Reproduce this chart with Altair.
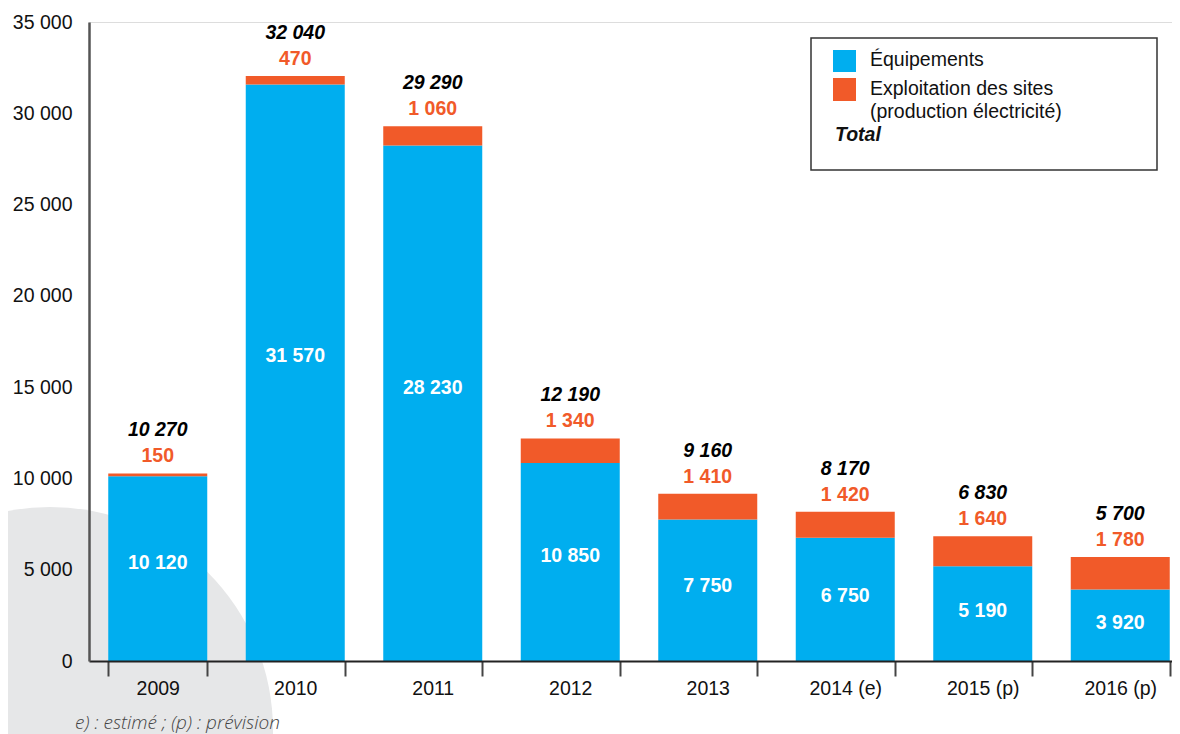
import altair as alt
import pandas as pd

years = ["2009", "2010", "2011", "2012", "2013", "2014 (e)", "2015 (p)", "2016 (p)"]
equipements = [10120, 31570, 28230, 10850, 7750, 6750, 5190, 3920]
exploitation = [150, 470, 1060, 1340, 1410, 1420, 1640, 1780]
totals = [10270, 32040, 29290, 12190, 9160, 8170, 6830, 5700]
y_ticks = [0, 5000, 10000, 15000, 20000, 25000, 30000, 35000]

BLUE = "#00AEEF"
ORANGE = "#F15A29"
FONT = "Liberation Sans"
FS = 19.5

df = pd.DataFrame({"year": years, "equip": equipements, "expl": exploitation, "total": totals})

fmt = lambda f: f"replace(format(datum.{f}, ','), ',', ' ')"

x_enc = alt.X(
    "year:N", sort=years,
    scale=alt.Scale(domain=years, range=[0, 1100], paddingInner=0.28, paddingOuter=0.14),
    axis=alt.Axis(title=None, labelAngle=0, tickBand="extent", tickSize=15, tickWidth=2,
                  tickColor="#444", domainColor="#222", domainWidth=2, labelFontSize=FS,
                  labelColor="#111", labelPadding=3, zindex=1),
)
y_scale = alt.Scale(domain=[0, 35000], nice=False)
y_axis = alt.Axis(title=None, values=y_ticks, ticks=False, grid=False, labelPadding=17,
                  labelFontSize=FS, labelColor="#111", domainColor="#555", domainWidth=2.5,
                  labelExpr="replace(format(datum.value, ','), ',', ' ')", zindex=1)

base = alt.Chart(df).transform_calculate(
    equip_lbl=fmt("equip"), expl_lbl=fmt("expl"), total_lbl=fmt("total"),
    lbl_pos="datum.equip * 0.53",
)

# decorative background disc (radius ~223 px); Vega circle size = (2r)^2
circle = alt.Chart(df).mark_circle(color="#E6E7E8", opacity=1).encode(
    x=alt.value(-39), y=alt.value(708), size=alt.value((2 * 223) ** 2)
).transform_filter("datum.year == '2009'")

bars_blue = base.mark_bar(color=BLUE).encode(
    x=x_enc, y=alt.Y("equip:Q", scale=y_scale, axis=y_axis)
)
bars_orange = base.mark_bar(color=ORANGE).encode(
    x=alt.X("year:N", sort=years), y=alt.Y("equip:Q"), y2="total:Q"
)
lbl_white = base.mark_text(color="white", fontWeight="bold", fontSize=FS, baseline="middle").encode(
    x=alt.X("year:N", sort=years), y=alt.Y("lbl_pos:Q"), text="equip_lbl:N"
)
lbl_orange = base.mark_text(color=ORANGE, fontWeight="bold", fontSize=FS, baseline="middle", dy=-17).encode(
    x=alt.X("year:N", sort=years), y=alt.Y("total:Q"), text="expl_lbl:N"
)
lbl_total = base.mark_text(color="black", fontWeight="bold", fontStyle="italic", fontSize=FS,
                           baseline="middle", dy=-43).encode(
    x=alt.X("year:N", sort=years), y=alt.Y("total:Q"), text="total_lbl:N"
)

one = alt.Chart(pd.DataFrame({"a": [0]}))
legend_box = one.mark_rect(fill="white", stroke="#333", strokeWidth=1.5).encode(
    x=alt.value(722), x2=alt.value(1068), y=alt.value(16), y2=alt.value(148)
)
sq_blue = one.mark_rect(color=BLUE).encode(
    x=alt.value(744), x2=alt.value(767), y=alt.value(28), y2=alt.value(50)
)
sq_orange = one.mark_rect(color=ORANGE).encode(
    x=alt.value(744), x2=alt.value(767), y=alt.value(56), y2=alt.value(79)
)
def ltext(txt, x, y, **kw):
    return one.mark_text(align="left", baseline="middle", fontSize=FS, color="#111", **kw).encode(
        x=alt.value(x), y=alt.value(y), text=alt.value(txt)
    )
leg_t1 = ltext("Équipements", 781, 38)
leg_t2 = ltext("Exploitation des sites", 781, 67)
leg_t3 = ltext("(production électricité)", 781, 90)
leg_t4 = ltext("Total", 746, 113, fontWeight="bold", fontStyle="italic")

footnote = one.mark_text(align="left", baseline="middle", fontSize=19, font="Open Sans",
                         fontStyle="italic", fontWeight=300, color="#444").encode(
    x=alt.value(-14), y=alt.value(701), text=alt.value("e) : estimé ; (p) : prévision")
)

chart = alt.layer(
    circle, bars_blue, bars_orange, lbl_white, lbl_orange, lbl_total,
    legend_box, sq_blue, sq_orange, leg_t1, leg_t2, leg_t3, leg_t4, footnote
).properties(
    width=1083, height=639,
    autosize=alt.AutoSizeParams(type="none"),
    padding={"left": 81, "top": 14, "right": 0, "bottom": 73},
).configure_view(strokeWidth=0).configure(font=FONT)

chart.save("out.html", embed_options={"renderer": "svg", "actions": False})
